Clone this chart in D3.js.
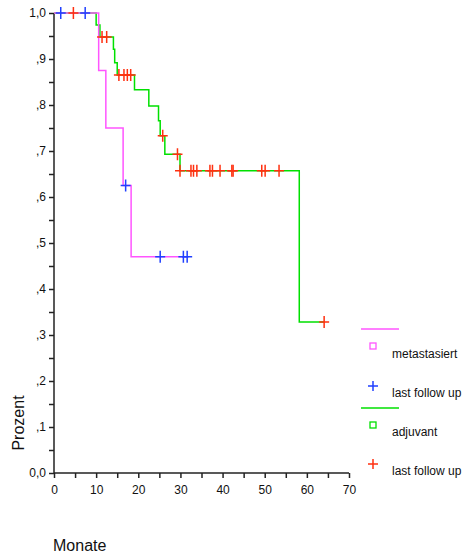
<!DOCTYPE html><html><head><meta charset="utf-8"><script src="https://cdn.jsdelivr.net/npm/d3@7"></script>
<style>body{margin:0;background:#fff}text{font-family:"Liberation Sans",Arial,sans-serif}</style></head><body><svg id="c" width="476" height="557"></svg><script>
// Kaplan-Meier step data
const metaTimes=[0,10.6,12.3,16.4,18.3,31.6];
const metaSurv=[1.0,0.875,0.75,0.625,0.47,0.47];
const metaCensT=[1.6,7.4,17.0,25.2,30.7,31.6];
const metaCensS=[1.0,1.0,0.625,0.47,0.47,0.47];
const adjTimes=[0,10.0,10.9,14.1,14.4,15.0,19.1,22.5,24.8,25.2,26.3,29.9,58.2,64.1];
const adjSurv=[1.0,0.974,0.948,0.921,0.892,0.865,0.833,0.798,0.766,0.733,0.693,0.657,0.328,0.328];
const adjCensT=[4.6,11.4,12.5,15.4,16.6,17.4,18.2,25.8,29.3,29.9,32.5,33.1,33.9,37.0,37.6,39.4,42.2,42.5,49.3,50.1,53.4,64.1];
const adjCensS=[1.0,0.948,0.948,0.865,0.865,0.865,0.865,0.733,0.693,0.657,0.657,0.657,0.657,0.657,0.657,0.657,0.657,0.657,0.657,0.657,0.657,0.328];
const xTicks=[0,10,20,30,40,50,60,70];
const yTicks=[0,0.1,0.2,0.3,0.4,0.5,0.6,0.7,0.8,0.9,1.0];
const yLabels=["0,0",",1",",2",",3",",4",",5",",6",",7",",8",",9","1,0"];
const legendLabels=["metastasiert","last follow up","adjuvant","last follow up"];

const svg=d3.select("#c");
const x=d3.scaleLinear().domain([0,70]).range([54,349]);
const y=d3.scaleLinear().domain([0,1]).range([473,13]);
const g=svg.append("g");
const ax=g.append("g").attr("transform","translate(0,473)")
 .call(d3.axisBottom(x).tickValues(d3.range(0,71,5)).tickSize(5).tickFormat(d=>d%10===0?d:""));
const ay=g.append("g").attr("transform","translate(54,0)")
 .call(d3.axisLeft(y).tickValues(d3.range(0,1.001,0.05)).tickSize(5).tickFormat(d=>{const i=yTicks.findIndex(t=>Math.abs(t-d)<1e-6);return i>=0?yLabels[i]:"";}));
[ax,ay].forEach(a=>{a.selectAll("path,line").attr("stroke","#222").attr("stroke-width",1.5);a.selectAll("text").attr("font-size",12).attr("fill","#111").attr("font-family","Liberation Sans, Arial");});
ax.select(".domain").attr("d","M54,0H349");
ay.select(".domain").attr("d","M0,473V13");
ax.selectAll("text").attr("dy","1.1em");
const line=d3.line().x(d=>x(d[0])).y(d=>y(d[1])).curve(d3.curveStepAfter);
function draw(T,S,col){g.append("path").datum(T.map((t,i)=>[t,S[i]])).attr("d",line).attr("fill","none").attr("stroke",col).attr("stroke-width",1.5);}
function cross(T,S,col){T.forEach((t,i)=>{const cx=x(t),cy=y(S[i]);g.append("path").attr("d",`M${cx-5},${cy}H${cx+5}M${cx},${cy-6}V${cy+6}`).attr("stroke",col).attr("stroke-width",1.5);});}
draw(adjTimes,adjSurv,"#00e000");
draw(metaTimes,metaSurv,"#ff55ff");
cross(adjCensT,adjCensS,"#ff3010");
cross(metaCensT,metaCensS,"#2040ff");
// legend
const L=svg.append("g");
L.append("line").attr("x1",361).attr("x2",399).attr("y1",329).attr("y2",329).attr("stroke","#ff55ff").attr("stroke-width",1.5);
L.append("rect").attr("x",370).attr("y",343).attr("width",6).attr("height",6).attr("fill","none").attr("stroke","#ff55ff").attr("stroke-width",1.3);
L.append("path").attr("d","M368,386H378M373,381V391").attr("stroke","#2040ff").attr("stroke-width",1.5);
L.append("line").attr("x1",361).attr("x2",399).attr("y1",408).attr("y2",408).attr("stroke","#00e000").attr("stroke-width",1.5);
L.append("rect").attr("x",370).attr("y",422).attr("width",6).attr("height",6).attr("fill","none").attr("stroke","#00e000").attr("stroke-width",1.3);
L.append("path").attr("d","M368,464H378M373,459V469").attr("stroke","#ff3010").attr("stroke-width",1.5);
[358,397,436,475].forEach((yy,i)=>L.append("text").attr("x",392).attr("y",yy).attr("font-size",12).attr("fill","#111").text(legendLabels[i]));
svg.append("text").attr("transform","translate(24,423) rotate(-90)").attr("text-anchor","middle").attr("font-size",16).attr("fill","#111").text("Prozent");
svg.append("text").attr("x",53).attr("y",551).attr("font-size",16).attr("fill","#111").text("Monate");
</script></body></html>
